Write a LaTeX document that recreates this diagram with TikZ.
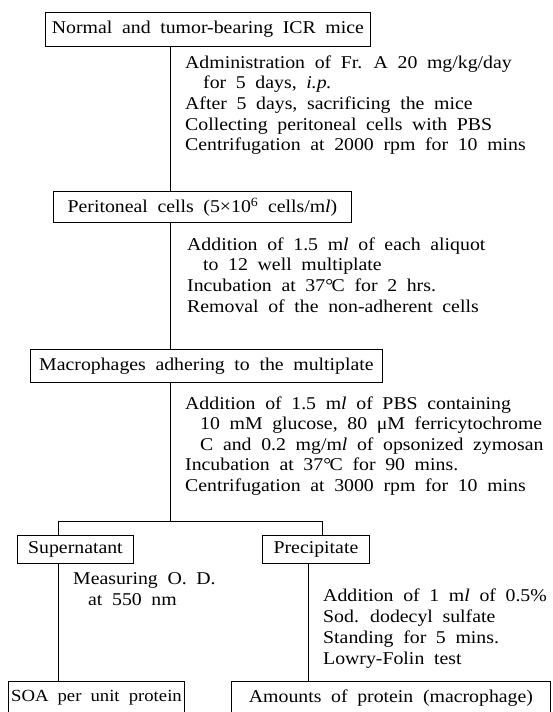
\documentclass[tikz,border=0pt]{standalone}
\usepackage{fontspec}
\setmainfont[FakeStretch=1.1,WordSpace=1.95]{Liberation Serif}
\newcommand{\mlunit}{m\textit{l}}
\newcommand{\degC}{°\kern-1.5pt C}
\begin{document}
\begin{tikzpicture}[x=1pt,y=-1pt,
  every node/.style={font=\fontsize{18}{20}\selectfont},
  box/.style={draw,line width=0.9pt,anchor=north west,inner sep=0pt},
  note/.style={anchor=base west,inner sep=0pt},
  link/.style={line width=0.9pt}]
\useasboundingbox (0,0) rectangle (552,712);

% boxed stages
\node[box,minimum width=325pt,minimum height=34pt] (b1) at (45,12) {Normal and tumor-bearing ICR mice};
\node[box,minimum width=298pt,minimum height=31pt] (b2) at (53,191) {Peritoneal cells (5×10\textsuperscript{6} cells/\mlunit)};
\node[box,minimum width=352pt,minimum height=33pt] (b3) at (30,349) {Macrophages adhering to the multiplate};
\node[box,minimum width=116pt,minimum height=28pt] (sup) at (17,535) {Supernatant};
\node[box,minimum width=107pt,minimum height=28pt] (pre) at (262,535) {Precipitate};
\node[box,minimum width=176pt,minimum height=33pt,font=\fontsize{17}{20}\selectfont] (soa) at (8,681) {SOA per unit protein};
\node[box,minimum width=319pt,minimum height=33pt] (amt) at (231,681) {Amounts of protein (macrophage)};

% guide coordinates for the connector lines
\coordinate (mx) at (170,0);
\coordinate (lx) at (58,0);
\coordinate (rx) at (322,0);
\coordinate (rlow) at (308,0);
\coordinate (split) at (0,521);

% connectors
\draw[link] (b1.south -| mx) -- (b2.north -| mx);
\draw[link] (b2.south -| mx) -- (b3.north -| mx);
\draw[link] (b3.south -| mx) -- (mx |- split);
\draw[link] (sup.north -| lx) -- (lx |- split) -- (rx |- split) -- (pre.north -| rx);
\draw[link] (sup.south -| lx) -- (soa.north -| lx);
\draw[link] (pre.south -| rlow) -- (amt.north -| rlow);

% step descriptions
\node[note] (s1a) at (185,68) {Administration of Fr. A 20 mg/kg/day};
\node[note] (s1b) at (203,88.7) {for 5 days, \textit{i.p.}};
\node[note] (s1c) at (185,109.4) {After 5 days, sacrificing the mice};
\node[note] (s1d) at (185,130.1) {Collecting peritoneal cells with PBS};
\node[note] (s1e) at (185,150.8) {Centrifugation at 2000 rpm for 10 mins};

\node[note] (s2a) at (187,250) {Addition of 1.5 \mlunit{} of each aliquot};
\node[note] (s2b) at (203,270.7) {to 12 well multiplate};
\node[note] (s2c) at (187,291.4) {Incubation at 37\degC{} for 2 hrs.};
\node[note] (s2d) at (187,312) {Removal of the non-adherent cells};

\node[note] (s3a) at (185,409) {Addition of 1.5 \mlunit{} of PBS containing};
\node[note] (s3b) at (200,429.5) {10 mM glucose, 80 μM ferricytochrome};
\node[note] (s3c) at (200,450) {C and 0.2 mg/\mlunit{} of opsonized zymosan};
\node[note] (s3d) at (185,470.5) {Incubation at 37\degC{} for 90 mins.};
\node[note] (s3e) at (185,491) {Centrifugation at 3000 rpm for 10 mins};

\node[note] (s4a) at (73,584) {Measuring O. D.};
\node[note] (s4b) at (88,605) {at 550 nm};

\node[note] (s5a) at (323,601) {Addition of 1 \mlunit{} of 0.5\%};
\node[note] (s5b) at (323,622) {Sod. dodecyl sulfate};
\node[note] (s5c) at (323,643) {Standing for 5 mins.};
\node[note] (s5d) at (323,664) {Lowry-Folin test};
\end{tikzpicture}
\end{document}
